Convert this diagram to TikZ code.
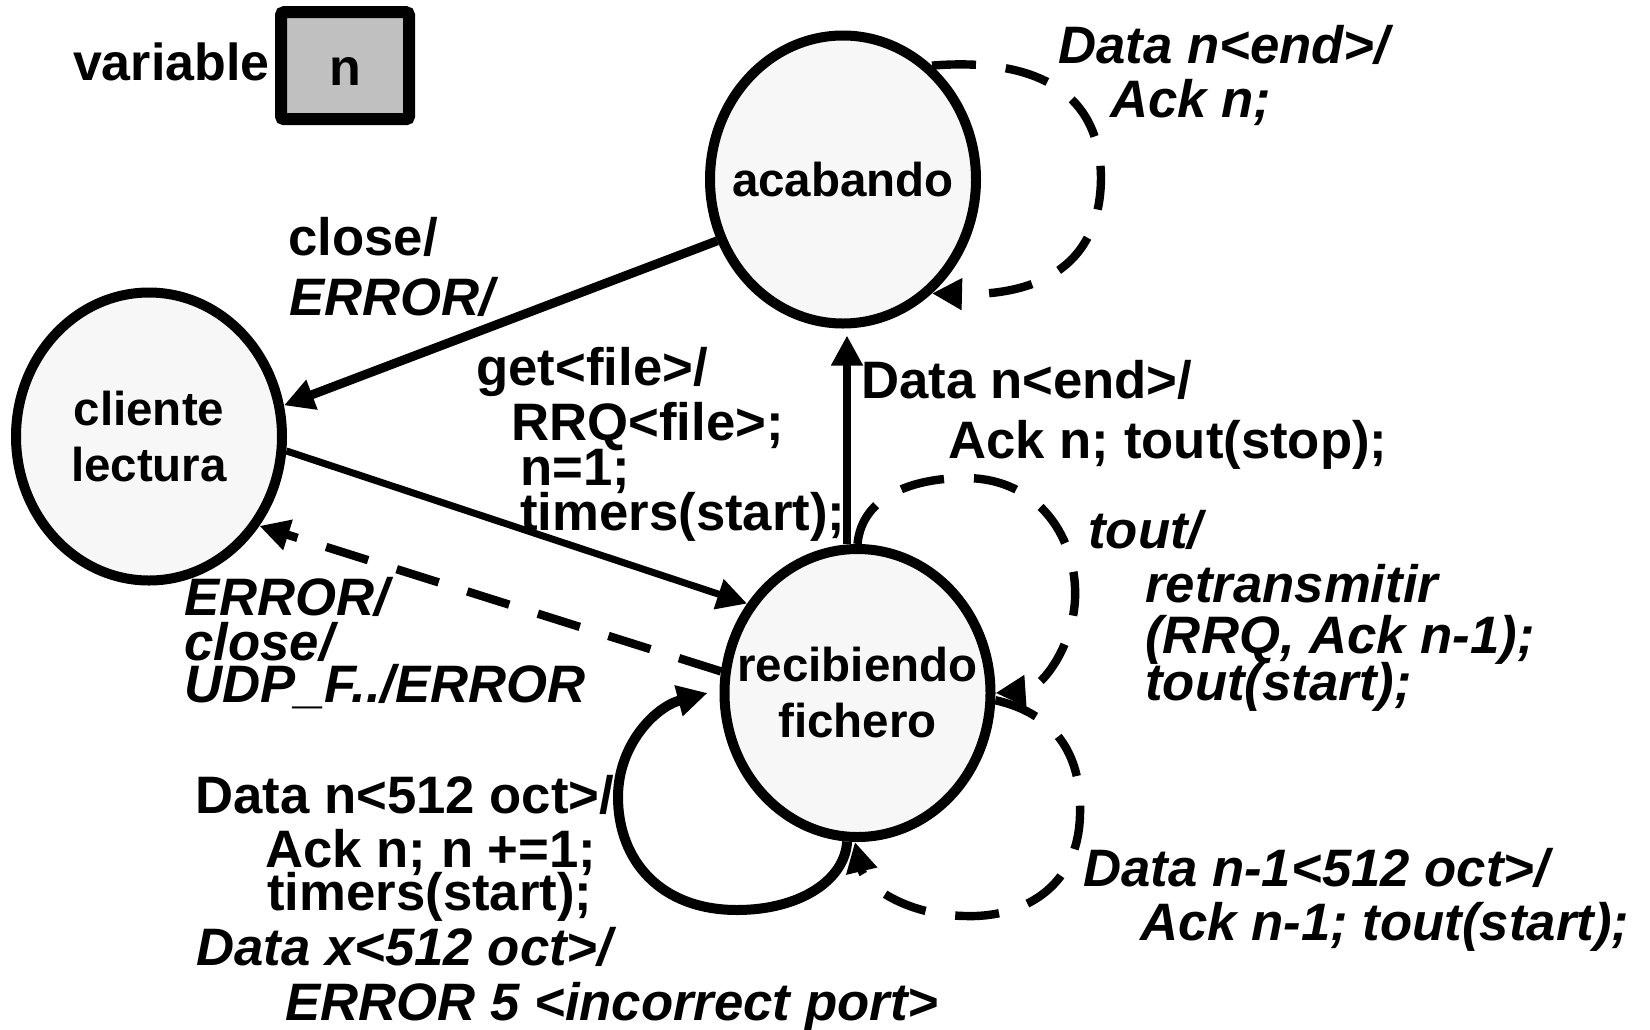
\documentclass[tikz,border=0pt]{standalone}
\usepackage{fontspec}
\setmainfont{Liberation Sans}
\usetikzlibrary{arrows.meta,shapes.geometric}
\definecolor{statefill}{HTML}{F7F7F7}
\definecolor{varfill}{HTML}{C0C0C0}
\newcommand\zbox[1]{\makebox[0pt]{#1}}
\begin{document}
\begin{tikzpicture}[x=0.5pt,y=-0.5pt,
  state/.style={ellipse, draw, line width=5pt, fill=statefill, minimum width=133pt, minimum height=144pt, inner sep=0pt, align=center, font=\fontsize{23.75}{28}\selectfont\bfseries},
  lbl/.style={anchor=base west, inner sep=0pt, font=\fontsize{26.35}{30}\selectfont\bfseries},
  ilbl/.style={lbl, font=\fontsize{26.35}{30}\selectfont\bfseries\itshape},
  tip/.style={-{Triangle[length=15pt,width=15pt]}},
  dsh/.style={dash pattern=on 22pt off 15pt, line width=4.2pt},
]
\fill[white] (0,0) rectangle (1650,1029);
\useasboundingbox (0,0) rectangle (1650,1029);

% variable box
\node[anchor=base east, inner sep=0pt, font=\fontsize{26}{30}\selectfont\bfseries] (varlbl) at (270,80) {variable};
\node[draw, line width=6pt, fill=varfill, rounded corners=1.5pt, minimum width=64pt, minimum height=53.5pt, inner sep=0pt] (varbox) at (345,65.7) {};
\node[anchor=base, inner sep=0pt, font=\fontsize{26}{30}\selectfont\bfseries] (varn) at (345,85) {n};

% states
\node[state] (acab) at (843,179.5) {\zbox{acabando}};
\node[state] (cli) at (149,436.5) {\zbox{cliente}\\\zbox{lectura}};
\node[state] (rec) at (857.5,693) {\zbox{recibiendo}\\\zbox{fichero}};

% transitions
\draw[tip, line width=4.5pt] (acab.206) -- (cli.13);
\draw[tip, line width=3.5pt] (cli.-6) -- (rec.141);
\draw[tip, line width=4pt] ([xshift=-5.25pt]rec.north) -- ([xshift=2pt,yshift=-3.5pt]acab.south);
\draw[tip, dsh] (rec.171) -- (cli.-39);

% self loops
\draw[tip, dsh] (acab.52) .. controls (1000,60) and (1100,70) .. (1101,178)
  .. controls (1100,290) and (1000,295) .. (acab.-52);
\draw[tip, dsh] (rec.90) .. controls (862,495) and (915,478) .. (965,478)
  .. controls (1040,478) and (1078,540) .. (1075,600)
  .. controls (1072,650) and (1040,690) .. (rec.0);
\draw[tip, dsh] (rec.-3) .. controls (1060,715) and (1082,760) .. (1080,815)
  .. controls (1078,890) and (1020,918) .. (965,916)
  .. controls (905,915) and (865,885) .. (rec.-91);
\draw[tip, line width=5pt] (rec.-94) .. controls (845,880) and (800,910) .. (737,910)
  .. controls (660,910) and (618,860) .. (618,797)
  .. controls (618,745) and (655,707) .. ([xshift=-6pt]rec.180);

% labels
\node[ilbl] (l1a) at (1058,63) {Data n<end>/};
\node[ilbl] (l1b) at (1110,117) {Ack n;};
\node[lbl] (l2a) at (288,255) {close/};
\node[ilbl] (l2b) at (289,315) {ERROR/};
\node[lbl] (l3a) at (476,385) {get<file>/};
\node[lbl] (l3b) at (511,440) {RRQ<file>;};
\node[lbl] (l3c) at (520,485) {n=1;};
\node[lbl] (l3d) at (520,530) {timers(start);};
\node[lbl] (l4a) at (861,398) {Data n<end>/};
\node[lbl] (l4b) at (948,458) {Ack n; tout(stop);};
\node[ilbl] (l5a) at (1088,548) {tout/};
\node[ilbl] (l5b) at (1145,602) {retransmitir};
\node[ilbl] (l5c) at (1145,653) {(RRQ, Ack n-1);};
\node[ilbl] (l5d) at (1145,700) {tout(start);};
\node[ilbl] (l6a) at (184,615) {ERROR/};
\node[ilbl] (l6b) at (184,660) {close/};
\node[ilbl] (l6c) at (184,702) {UDP\_F../ERROR};
\node[lbl] (l7a) at (195,813) {Data n<512 oct>/};
\node[lbl] (l7b) at (265,867) {Ack n; n +=1;};
\node[lbl] (l7c) at (267,910) {timers(start);};
\node[ilbl] (l7d) at (196,965) {Data x<512 oct>/};
\node[ilbl] (l7e) at (285,1020) {ERROR 5 <incorrect port>};
\node[ilbl] (l8a) at (1083,886) {Data n-1<512 oct>/};
\node[ilbl] (l8b) at (1140,940) {Ack n-1; tout(start);};
\end{tikzpicture}
\end{document}
